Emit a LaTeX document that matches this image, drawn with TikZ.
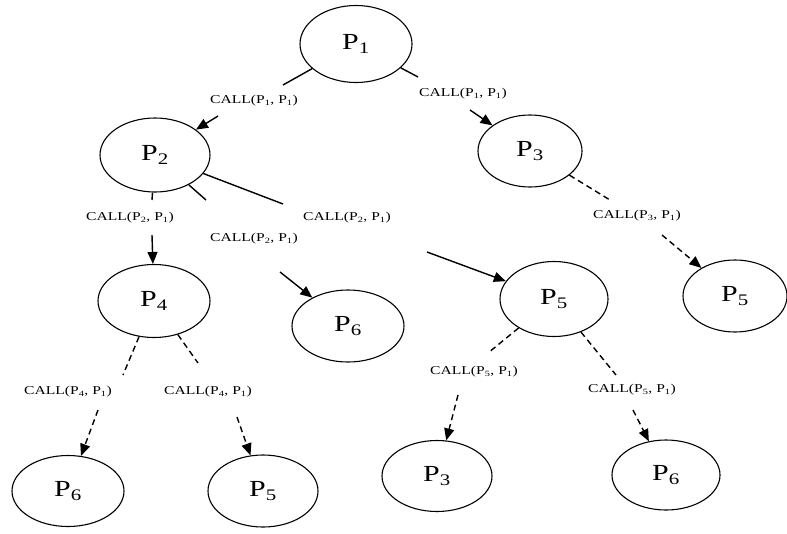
\documentclass[tikz,border=0pt]{standalone}
\usepackage{fontspec}
\setmainfont[FakeStretch=1.3]{Liberation Serif}
\usetikzlibrary{shapes.geometric,arrows.meta}
\begin{document}
\begin{tikzpicture}[x=1pt,y=-1pt,
  proc/.style={draw, ellipse, line width=1.1pt, inner sep=0pt, font=\fontsize{23}{25}\selectfont},
  lab/.style={font=\fontsize{12}{14}\selectfont, inner sep=0pt},
  stub/.style={line width=1.4pt},
  arr/.style={line width=1.4pt, -{Triangle[length=12pt,width=10pt]}},
  dsh/.style={dash pattern=on 6pt off 4pt}
]
\useasboundingbox (0,0) rectangle (787,533);
% processes
\node[proc, minimum width=112, minimum height=77] (P1) at (356,44) {P\textsubscript{1}};
\node[proc, minimum width=110, minimum height=74] (P2) at (155,155) {P\textsubscript{2}};
\node[proc, minimum width=104, minimum height=72] (P3) at (530,151) {P\textsubscript{3}};
\node[proc, minimum width=112, minimum height=73] (P4) at (154,301) {P\textsubscript{4}};
\node[proc, minimum width=112, minimum height=72] (P6m) at (348,326) {P\textsubscript{6}};
\node[proc, minimum width=108, minimum height=75] (P5m) at (554,299) {P\textsubscript{5}};
\node[proc, minimum width=104, minimum height=72] (P5r) at (735,296) {P\textsubscript{5}};
\node[proc, minimum width=112, minimum height=71] (P6a) at (68,491) {P\textsubscript{6}};
\node[proc, minimum width=110, minimum height=72] (P5b) at (263,491) {P\textsubscript{5}};
\node[proc, minimum width=110, minimum height=71] (P3b) at (437,476) {P\textsubscript{3}};
\node[proc, minimum width=108, minimum height=70] (P6b) at (666,475) {P\textsubscript{6}};
% free ends of the broken connectors
\coordinate (a12) at (283,85);  \coordinate (b12) at (218,116);
\coordinate (a13) at (418,77);  \coordinate (b13) at (470,110);
\coordinate (a24) at (152,200); \coordinate (b24) at (152,235);
\coordinate (a26) at (206,200); \coordinate (b26) at (280,272);
\coordinate (a25) at (283,204); \coordinate (b25) at (427,252);
\coordinate (a35) at (610,200); \coordinate (b35) at (662,235);
\coordinate (a46) at (123,375); \coordinate (b46) at (98,410);
\coordinate (a45) at (198,363); \coordinate (b45) at (237,417);
\coordinate (a53) at (488,353); \coordinate (b53) at (458,395);
\coordinate (a56) at (616,375); \coordinate (b56) at (633,410);
% solid calls
\draw[stub] (P1) -- (a12); \draw[arr] (b12) -- (P2);
\draw[stub] (P1) -- (a13); \draw[arr] (b13) -- (P3);
\draw[stub] (P2) -- (a24); \draw[arr] (b24) -- (P4);
\draw[stub] (P2) -- (a26); \draw[arr] (b26) -- (P6m);
\draw[stub] (P2) -- (a25); \draw[arr] (b25) -- (P5m);
% dashed calls
\draw[stub,dsh] (P3) -- (a35);  \draw[arr,dsh] (b35) -- (P5r);
\draw[stub,dsh] (P4) -- (a46);  \draw[arr,dsh] (b46) -- (P6a);
\draw[stub,dsh] (P4) -- (a45);  \draw[arr,dsh] (b45) -- (P5b);
\draw[stub,dsh] (P5m) -- (a53); \draw[arr,dsh] (b53) -- (P3b);
\draw[stub,dsh] (P5m) -- (a56); \draw[arr,dsh] (b56) -- (P6b);
% labels
\node[lab] (l12) at (254,101) {CALL(P\textsubscript{1}, P\textsubscript{1})};
\node[lab] (l13) at (463,94) {CALL(P\textsubscript{1}, P\textsubscript{1})};
\node[lab] (l24) at (130,218) {CALL(P\textsubscript{2}, P\textsubscript{1})};
\node[lab] (l26) at (254,239) {CALL(P\textsubscript{2}, P\textsubscript{1})};
\node[lab] (l25) at (347,218) {CALL(P\textsubscript{2}, P\textsubscript{1})};
\node[lab] (l35) at (637,216) {CALL(P\textsubscript{3}, P\textsubscript{1})};
\node[lab] (l46) at (68,392) {CALL(P\textsubscript{4}, P\textsubscript{1})};
\node[lab] (l45) at (208,392) {CALL(P\textsubscript{4}, P\textsubscript{1})};
\node[lab] (l53) at (474,372) {CALL(P\textsubscript{5}, P\textsubscript{1})};
\node[lab] (l56) at (632,390) {CALL(P\textsubscript{5}, P\textsubscript{1})};
\end{tikzpicture}
\end{document}
